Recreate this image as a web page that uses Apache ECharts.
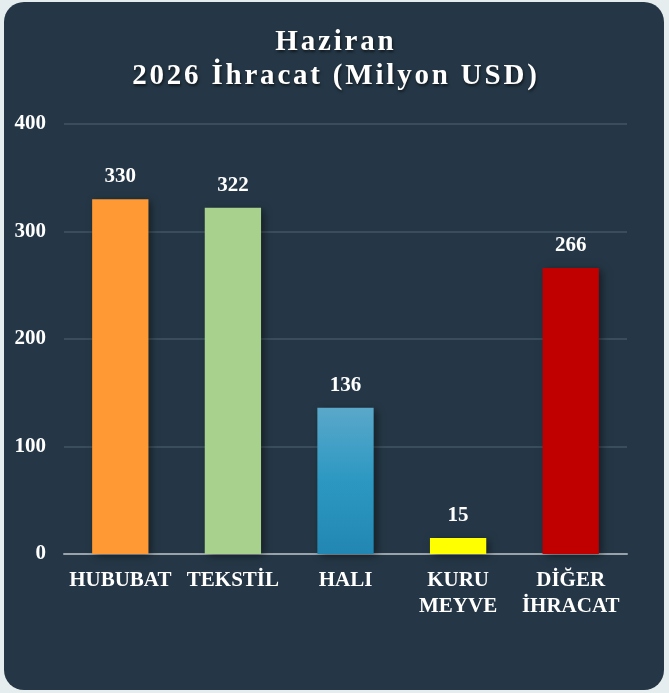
<!DOCTYPE html>
<html>
<head>
<meta charset="utf-8">
<script src="https://cdn.jsdelivr.net/npm/echarts@6/dist/echarts.min.js"></script>
<style>
  html, body { margin: 0; padding: 0; background: #e6edef; }
  #panel {
    position: absolute; left: 4px; top: 2px; width: 660px; height: 688px;
    background: #253746; border-radius: 20px;
  }
  #chart { position: absolute; left: 0; top: 0; width: 669px; height: 693px; }
</style>
</head>
<body>
<div id="panel"></div>
<div id="chart"></div>
<script>
const titleLines = ["Haziran", "2026 İhracat (Milyon USD)"];
const categories = ["HUBUBAT", "TEKSTİL", "HALI", "KURU\nMEYVE", "DİĞER\nİHRACAT"];
const values = [330, 322, 136, 15, 266];
const yTicks = [0, 100, 200, 300, 400];

const font = "'Liberation Serif', 'Times New Roman', serif";

const barColors = [
  "#FF9933",
  "#A9D18E",
  {
    type: "linear", x: 0, y: 0, x2: 0, y2: 1,
    colorStops: [
      { offset: 0, color: "#5AA8CA" },
      { offset: 0.5, color: "#2C98C2" },
      { offset: 1, color: "#2287B2" },
    ],
  },
  "#FFFF00",
  "#C00000",
];

// spaced-out title: every character is its own rich token with side padding
function spaced(line) {
  return Array.from(line).map(c => "{s|" + c + "}").join("");
}

const chart = echarts.init(document.getElementById("chart"));

const option = {
  backgroundColor: "transparent",
  animation: false,
  title: {
    text: titleLines.map(spaced).join("\n"),
    left: "center",
    top: 26,
    padding: 0,
    textStyle: {
      rich: {
        s: {
          fontFamily: font,
          fontWeight: "bold",
          fontSize: 29,
          lineHeight: 34,
          color: "#ffffff",
          padding: [0, 1.4, 0, 1.4],
          textShadowColor: "rgba(0,0,0,0.6)",
          textShadowBlur: 3,
          textShadowOffsetX: 1,
          textShadowOffsetY: 2,
        },
      },
    },
  },
  grid: {
    top: 124,
    left: 64,
    right: 42,
    bottom: 139,
  },
  xAxis: {
    type: "category",
    data: categories,
    axisLine: { lineStyle: { color: "#9aa3aa", width: 2 } },
    axisTick: { lineStyle: { color: "#9aa3aa", width: 2 }, length: 5 },
    axisLabel: {
      color: "#ffffff",
      fontFamily: font,
      fontWeight: "bold",
      fontSize: 21,
      lineHeight: 26,
      margin: 14,
      interval: 0,
    },
  },
  yAxis: {
    type: "value",
    min: yTicks[0],
    max: yTicks[yTicks.length - 1],
    interval: 100,
    axisLine: { show: false },
    axisTick: { show: false },
    splitLine: { lineStyle: { color: "#3a4d5c", width: 2 } },
    axisLabel: {
      color: "#ffffff",
      fontFamily: font,
      fontWeight: "bold",
      fontSize: 21,
      margin: 18,
    },
  },
  series: [
    {
      type: "bar",
      barWidth: "50%",
      data: values.map((v, i) => ({
        value: v,
        itemStyle: { color: barColors[i] },
      })),
      itemStyle: {
        shadowColor: "rgba(0,0,0,0.45)",
        shadowBlur: 8,
        shadowOffsetX: 3,
        shadowOffsetY: 2,
      },
      label: {
        show: true,
        position: "top",
        distance: 12,
        color: "#ffffff",
        fontFamily: font,
        fontWeight: "bold",
        fontSize: 21,
      },
    },
  ],
};

chart.setOption(option);
</script>
</body>
</html>
